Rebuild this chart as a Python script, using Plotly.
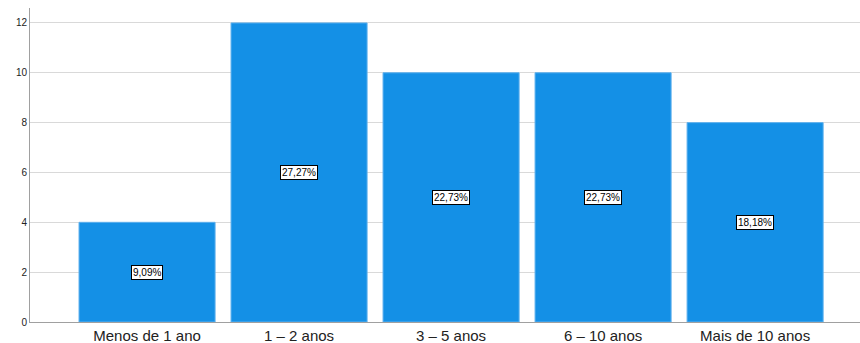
import plotly.graph_objects as go

categories = ["Menos de 1 ano", "1 – 2 anos", "3 – 5 anos", "6 – 10 anos", "Mais de 10 anos"]
counts = [4, 12, 10, 10, 8]
pct_labels = ["9,09%", "27,27%", "22,73%", "22,73%", "18,18%"]
y_ticks = [0, 2, 4, 6, 8, 10, 12]

fig = go.Figure()
fig.add_trace(go.Bar(
    x=categories, y=counts, width=0.895,
    marker=dict(color="#1490E6", line=dict(color="#5DB0EE", width=1)),
    hoverinfo="skip",
))

for c, v, t in zip(categories, counts, pct_labels):
    fig.add_annotation(
        x=c, y=v / 2, text=t, showarrow=False,
        font=dict(family="Arial, Liberation Sans", size=10, color="black"),
        bgcolor="white", bordercolor="black", borderwidth=1, borderpad=1,
    )

fig.update_layout(
    width=860, height=343,
    margin=dict(l=30, r=0, t=8, b=21),
    plot_bgcolor="white", paper_bgcolor="white",
    showlegend=False,
    xaxis=dict(
        range=[-0.77, 4.69], showgrid=False, automargin=False,
        showline=True, linecolor="#a0a0a0", linewidth=1,
        ticks="", ticklen=0, ticklabelstandoff=0,
        tickfont=dict(family="Arial, Liberation Sans", size=15, color="#222"),
    ),
    yaxis=dict(
        range=[0, 12.6], tickvals=y_ticks, automargin=False,
        showgrid=True, gridcolor="#d9d9d9", gridwidth=1,
        showline=True, linecolor="#a0a0a0", linewidth=1,
        ticks="", ticklen=0,
        tickfont=dict(family="Arial, Liberation Sans", size=10, color="#222"),
        zeroline=False,
    ),
)

fig.write_html("out.html")
